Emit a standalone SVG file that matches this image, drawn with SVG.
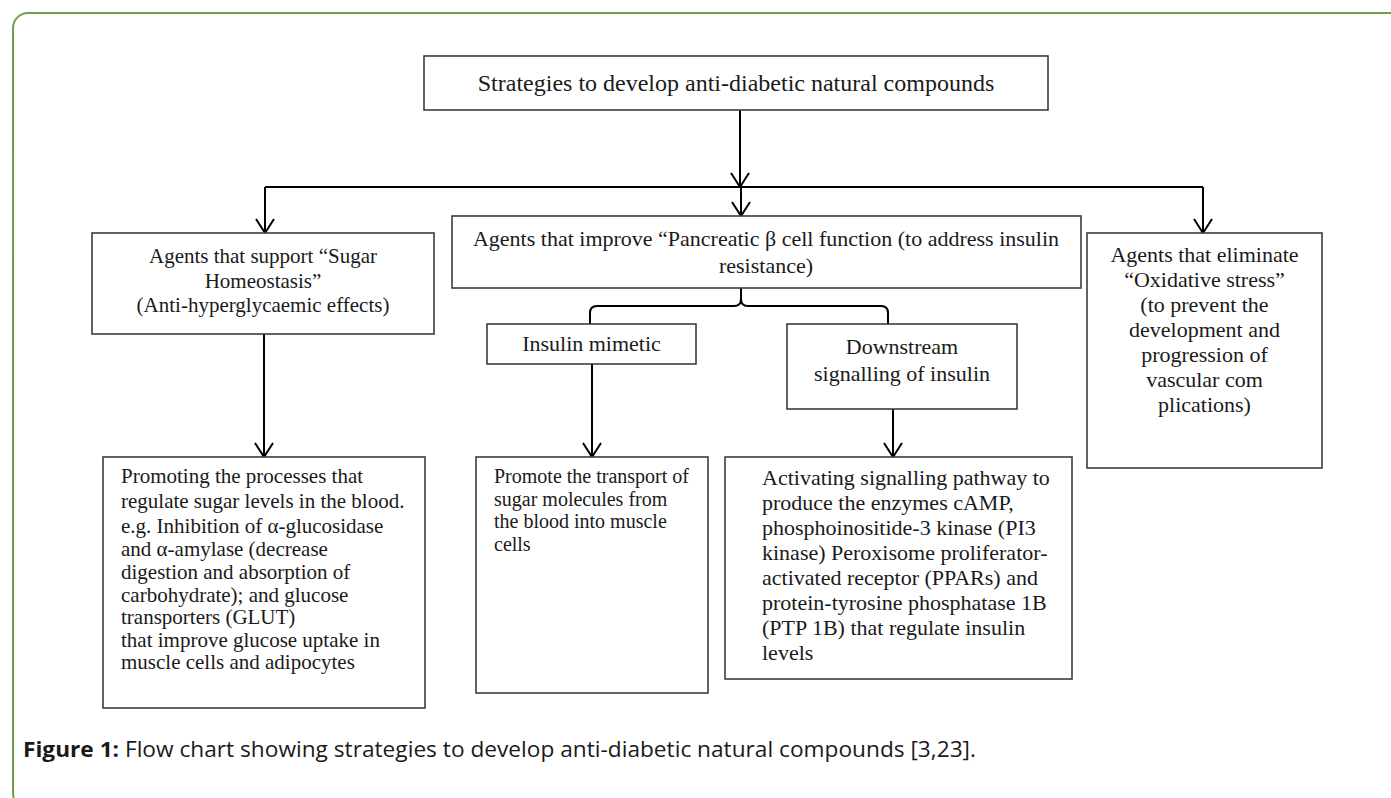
<svg xmlns="http://www.w3.org/2000/svg" width="1391" height="798" viewBox="0 0 1391 798">
<style>
.box{fill:#fff;stroke:#3c3c3c;stroke-width:1.6}
.t{font-family:"Liberation Serif","Times New Roman",serif;font-size:22px;fill:#1a1a1a}
.c{text-anchor:middle}
.ln{fill:none;stroke:#000;stroke-width:2}
.cap{font-family:"Open Sans","Noto Sans","Liberation Sans",sans-serif;font-size:21px;fill:#1a1a1a}
</style>
<defs>
<marker id="arr" viewBox="0 0 16 20" refX="15" refY="10" markerWidth="16" markerHeight="20" markerUnits="userSpaceOnUse" orient="auto">
<path d="M1,1 L15,10 L1,19" fill="none" stroke="#000" stroke-width="2"/>
</marker>
</defs>
<rect x="13" y="13" width="1400" height="795" rx="15" fill="#fff" stroke="#6e9f4c" stroke-width="2"/>
<g id="connectors">
<path class="ln" d="M740,110 V187" marker-end="url(#arr)"/>
<path class="ln" d="M265,187 H1203"/>
<path class="ln" d="M265,187 V233" marker-end="url(#arr)"/>
<path class="ln" d="M741,187 V216" marker-end="url(#arr)"/>
<path class="ln" d="M1203,187 V233" marker-end="url(#arr)"/>
<path class="ln" d="M590,324 V313 Q590,306 597,306 H734 Q741,306 741,299 V288 M741,299 Q741,306 748,306 H881 Q888,306 888,313 V324"/>
<path class="ln" d="M264,334 V457" marker-end="url(#arr)"/>
<path class="ln" d="M592,364 V457" marker-end="url(#arr)"/>
<path class="ln" d="M893,409 V457" marker-end="url(#arr)"/>
</g>
<g id="root">
<rect class="box" x="424" y="56" width="624" height="54"/>
<text class="t c" x="736" y="91" style="font-size:24px">Strategies to develop anti-diabetic natural compounds</text>
</g>
<g id="sugar">
<rect class="box" x="92" y="233" width="342" height="101"/>
<text class="t c" style="font-size:21px"><tspan x="263" y="263">Agents that support “Sugar</tspan><tspan x="263" y="288">Homeostasis”</tspan><tspan x="263" y="312">(Anti-hyperglycaemic effects)</tspan></text>
</g>
<g id="pancreatic">
<rect class="box" x="452" y="216" width="629" height="72"/>
<text class="t c"><tspan x="766" y="246">Agents that improve “Pancreatic β cell function (to address insulin</tspan><tspan x="766" y="273">resistance)</tspan></text>
</g>
<g id="oxidative">
<rect class="box" x="1087" y="233" width="235" height="235"/>
<text class="t c"><tspan x="1204.5" y="262">Agents that eliminate</tspan><tspan x="1204.5" y="287">“Oxidative stress”</tspan><tspan x="1204.5" y="312">(to prevent the</tspan><tspan x="1204.5" y="337">development and</tspan><tspan x="1204.5" y="362">progression of</tspan><tspan x="1204.5" y="387">vascular com</tspan><tspan x="1204.5" y="412">plications)</tspan></text>
</g>
<g id="mimetic">
<rect class="box" x="487" y="324" width="209" height="40"/>
<text class="t c" x="591.5" y="351">Insulin mimetic</text>
</g>
<g id="downstream">
<rect class="box" x="787" y="324" width="230" height="85"/>
<text class="t c"><tspan x="902" y="354">Downstream</tspan><tspan x="902" y="381">signalling of insulin</tspan></text>
</g>
<g id="promoting">
<rect class="box" x="103" y="457" width="322" height="251"/>
<text class="t" style="font-size:21px"><tspan x="121" y="483">Promoting the processes that</tspan><tspan x="121" y="508">regulate sugar levels in the blood.</tspan><tspan x="121" y="533">e.g. Inhibition of α-glucosidase</tspan><tspan x="121" y="556">and α-amylase (decrease</tspan><tspan x="121" y="579">digestion and absorption of</tspan><tspan x="121" y="602">carbohydrate); and glucose</tspan><tspan x="121" y="624">transporters (GLUT)</tspan><tspan x="121" y="647">that improve glucose uptake in</tspan><tspan x="121" y="669">muscle cells and adipocytes</tspan></text>
</g>
<g id="transport">
<rect class="box" x="476" y="457" width="232" height="236"/>
<text class="t" style="font-size:20px"><tspan x="494" y="483">Promote the transport of</tspan><tspan x="494" y="506">sugar molecules from</tspan><tspan x="494" y="528">the blood into muscle</tspan><tspan x="494" y="551">cells</tspan></text>
</g>
<g id="activating">
<rect class="box" x="725" y="457" width="347" height="222"/>
<text class="t"><tspan x="762" y="485">Activating signalling pathway to</tspan><tspan x="762" y="510">produce the enzymes cAMP,</tspan><tspan x="762" y="535">phosphoinositide-3 kinase (PI3</tspan><tspan x="762" y="560">kinase) Peroxisome proliferator-</tspan><tspan x="762" y="585">activated receptor (PPARs) and</tspan><tspan x="762" y="610">protein-tyrosine phosphatase 1B</tspan><tspan x="762" y="635">(PTP 1B) that regulate insulin</tspan><tspan x="762" y="660">levels</tspan></text>
</g>
<g id="caption">
<text class="cap" x="23" y="757" textLength="953" lengthAdjust="spacingAndGlyphs"><tspan font-weight="bold">Figure 1:</tspan> Flow chart showing strategies to develop anti-diabetic natural compounds [3,23].</text>
</g>
</svg>
